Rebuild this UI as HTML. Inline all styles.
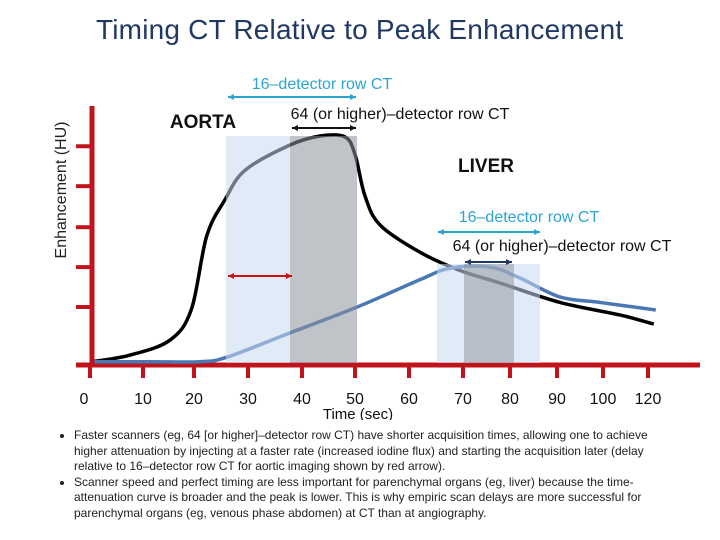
<!DOCTYPE html>
<html><head><meta charset="utf-8"><style>
body{margin:0;width:720px;height:540px;background:#fff;font-family:"Liberation Sans",sans-serif;overflow:hidden;position:relative}
.t{position:absolute;white-space:nowrap}
ul{position:absolute;left:50px;top:428px;width:600px;margin:0;padding-left:24px;font-size:12px;line-height:15.5px;color:#222}
li{margin:0 0 0 0}
</style></head><body>
<div class="t" style="left:96px;top:14px;font-size:28px;letter-spacing:0.2px;color:#1f3864">Timing CT Relative to Peak Enhancement</div>
<svg width="720" height="420" style="position:absolute;left:0;top:0" id="chart">
<text x="66" y="190" transform="rotate(-90 66 190)" text-anchor="middle" font-size="16" fill="#222">Enhancement (HU)</text>
<text x="203" y="128" font-size="19" font-weight="bold" fill="#111" text-anchor="middle">AORTA</text>
<text x="486" y="172" font-size="19" font-weight="bold" fill="#111" text-anchor="middle">LIVER</text>
<text x="322" y="89" font-size="16" fill="#2aa5d0" text-anchor="middle">16–detector row CT</text>
<text x="400" y="119" font-size="16" fill="#111" text-anchor="middle">64 (or higher)–detector row CT</text>
<text x="529" y="222" font-size="16" fill="#2aa5d0" text-anchor="middle">16–detector row CT</text>
<text x="562" y="251" font-size="16" fill="#111" text-anchor="middle">64 (or higher)–detector row CT</text>
<text x="358" y="419" font-size="15" fill="#111" text-anchor="middle">Time (sec)</text>
<g id="g"></g>
</svg>
<ul>
<li>Faster scanners (eg, 64 [or higher]–detector row CT) have shorter acquisition times, allowing one to achieve higher attenuation by injecting at a faster rate (increased iodine flux) and starting the acquisition later (delay relative to 16–detector row CT for aortic imaging shown by red arrow).</li>
<li>Scanner speed and perfect timing are less important for parenchymal organs (eg, liver) because the time-attenuation curve is broader and the peak is lower. This is why empiric scan delays are more successful for parenchymal organs (eg, venous phase abdomen) at CT than at angiography.</li>
</ul>
<script>
const tickLabels=["0","10","20","30","40","50","60","70","80","90","100","120"];
const aortaX=[0,0.79,1.58,2.0,2.3,2.66,3.06,3.94,4.54,5.03,5.23,5.42,5.72,6.51,7.3,8.09,9.27,10.45,11.12];
const aortaY=[0.9,3.9,10.5,24,56,72,85,96,100,99.6,91.7,74,61,49,41,35.5,27,21.5,17.5];
const liverX=[0,1.2,2.17,2.7,3.94,5.27,6.51,7.1,7.89,8.48,9.27,10.06,11.16];
const liverY=[1,1,1,3,13.6,25,37,42,42.5,37.7,29.4,27,23.7];
const yTicks=[25,42.5,60,78,95.5];
const tickPx=[90,143,194,248,302,355,409,463,510,557,603,648];
const X=i=>90+i*50.7, Y=v=>364-v*2.28;
const NS="http://www.w3.org/2000/svg", g=document.getElementById('g');
function mk(t,a){const e=document.createElementNS(NS,t);for(const k in a)e.setAttribute(k,a[k]);g.appendChild(e);return e;}
function path(xs,ys){const p=xs.map((x,i)=>[X(x),Y(ys[i])]);let d=`M${p[0][0]},${p[0][1]}`;
for(let i=0;i<p.length-1;i++){const p0=p[i-1]||p[i],p1=p[i],p2=p[i+1],p3=p[i+2]||p2;
d+=` C${p1[0]+(p2[0]-p0[0])/6},${p1[1]+(p2[1]-p0[1])/6} ${p2[0]-(p3[0]-p1[0])/6},${p2[1]-(p3[1]-p1[1])/6} ${p2[0]},${p2[1]}`;}return d;}
let e;
e=mk('line',{x1:76,x2:700,y1:365,y2:365,stroke:'#c0141c','stroke-width':5});

e=mk('path',{d:path(aortaX,aortaY),fill:'none',stroke:'#000','stroke-width':3.5});

e=mk('path',{d:path(liverX,liverY),fill:'none',stroke:'#4a78b5','stroke-width':3.5});

const shades=[[226,136,64,'#c9d9f0',0.55,'aorta-16-window'],[290,136,67,'#8c939c',0.55,'aorta-64-window'],[437,264,103,'#c9d9f0',0.55,'liver-16-window'],[464,264,50,'#8c939c',0.5,'liver-64-window']];
shades.forEach(s=>{e=mk('rect',{x:s[0],y:s[1],width:s[2],height:363-s[1],fill:s[3],'fill-opacity':s[4]});
});
function arrow(x1,x2,y,c,n){e=mk('line',{x1,x2,y1:y,y2:y,stroke:c,'stroke-width':2});

mk('path',{d:`M${x1},${y} l6,-3 v6z M${x2},${y} l-6,-3 v6z`,fill:c});}
arrow(228,356,97,'#2aa5d0','aorta-16-arrow');arrow(292,356,128,'#111','aorta-64-arrow');
arrow(228,292,276,'#d01010','delay-arrow');arrow(438,540,232,'#2aa5d0','liver-16-arrow');arrow(465,512,262,'#1f3864','liver-64-arrow');
e=mk('line',{x1:92,x2:92,y1:106,y2:367,stroke:'#c0141c','stroke-width':5});

yTicks.forEach(v=>{e=mk('line',{x1:76,x2:92,y1:Y(v),y2:Y(v),stroke:'#c0141c','stroke-width':4});
});
tickLabels.forEach((l,i)=>{const px=tickPx[i];
e=mk('line',{x1:px,x2:px,y1:365,y2:378,stroke:'#c0141c','stroke-width':4});

e=mk('text',{x:px-(i==0?6:0),y:404,'font-size':16,'text-anchor':'middle',fill:'#111'});e.textContent=l;
});
</script>
</body></html>
